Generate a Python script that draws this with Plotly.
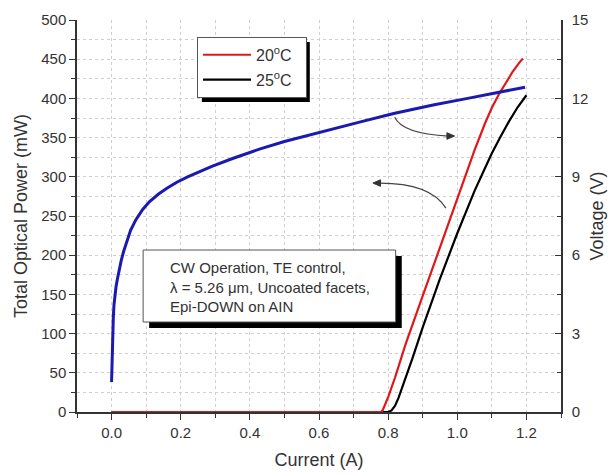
import plotly.graph_objects as go

# ---------------- data ----------------
current_red = [0.00, 0.78, 0.785, 0.79, 0.80, 0.82, 0.85, 0.90, 0.95, 1.00, 1.05, 1.08, 1.10,
               1.12, 1.14, 1.16, 1.18, 1.19]
power_20C = [0, 0, 3, 8, 19, 44, 86, 148, 210, 272, 334, 368, 388,
             405, 420, 434, 446, 451]

current_black = [0.00, 0.80, 0.81, 0.82, 0.83, 0.85, 0.87, 0.90, 0.95, 1.00, 1.05, 1.08, 1.10,
                 1.125, 1.15, 1.175, 1.20]
power_25C = [0, 0, 2, 8, 18, 42, 68, 108, 170, 228, 282, 311, 330,
             351, 371, 389, 404]

current_v = [0.000, 0.001, 0.002, 0.003, 0.005, 0.007, 0.010, 0.013, 0.017, 0.022, 0.028, 0.035,
             0.045, 0.055, 0.070, 0.090, 0.110, 0.135, 0.160, 0.190, 0.220, 0.255, 0.290, 0.350,
             0.430, 0.500, 0.600, 0.720, 0.816, 0.930, 1.030, 1.120, 1.196]
voltage = [1.15, 1.8, 2.4, 2.9, 3.6, 4.1, 4.5, 4.8, 5.1, 5.45, 5.8, 6.15,
           6.6, 6.95, 7.35, 7.75, 8.05, 8.33, 8.56, 8.8, 9.0, 9.2, 9.4, 9.7,
           10.07, 10.35, 10.7, 11.1, 11.42, 11.75, 12.0, 12.22, 12.43]

legend_names = ["20<sup>o</sup>C\u00a0\u00a0", "25<sup>o</sup>C\u00a0\u00a0"]
info_text = "CW Operation, TE control,<br>\u03bb = 5.26 \u03bcm, Uncoated facets,<br>Epi-DOWN on AIN"

FONT = "Liberation Sans, Arial, sans-serif"
TXT = "#333333"
AX = "#333333"
GRID = "#cfcfcf"

fig = go.Figure()
fig.add_trace(go.Scatter(x=current_black, y=power_25C, mode="lines", name=legend_names[1],
                         legendrank=2, legendgroup="b",
                         line=dict(color="#000000", width=2.2)))
fig.add_trace(go.Scatter(x=current_red, y=power_20C, mode="lines", name=legend_names[0],
                         legendrank=1, legendgroup="a",
                         line=dict(color="#e01818", width=2.2)))
fig.add_trace(go.Scatter(x=current_v, y=voltage, mode="lines", name="Voltage", showlegend=False,
                         yaxis="y2", line=dict(color="#1a1ab0", width=3)))

# info box (shadow + box)
fig.add_shape(type="rect", xref="x", yref="y", x0=0.1087, x1=0.8394, y0=107.1, y1=199.0,
              fillcolor="#000000", line=dict(width=0), layer="above")
fig.add_shape(type="rect", xref="x", yref="y", x0=0.0913, x1=0.8217, y0=114.8, y1=206.6,
              fillcolor="white", line=dict(color="#555555", width=1), layer="above")
fig.add_annotation(x=0.1638, y=160.0, xref="x", yref="y", text=info_text, showarrow=False,
                   xanchor="left", yanchor="middle", align="left",
                   font=dict(family=FONT, size=15, color=TXT))

# legend shadow
fig.add_shape(type="rect", xref="paper", yref="paper", x0=0.258, x1=0.481, y0=0.791, y1=0.944,
              fillcolor="#000000", line=dict(width=0), layer="above")

# curved arrows
fig.add_shape(type="path", xref="x", yref="y", path="M 0.819,376 Q 0.841,355 0.975,352",
              line=dict(color="#444444", width=1.2), layer="above")
fig.add_shape(type="path", xref="x", yref="y", path="M 0.992,352 L 0.970,356.2 L 0.970,347.8 Z",
              fillcolor="#333333", line=dict(color="#333333", width=1), layer="above")
fig.add_shape(type="path", xref="x", yref="y", path="M 0.967,260 Q 0.923,292 0.775,292",
              line=dict(color="#444444", width=1.2), layer="above")
fig.add_shape(type="path", xref="x", yref="y", path="M 0.756,292 L 0.778,296.2 L 0.778,287.8 Z",
              fillcolor="#333333", line=dict(color="#333333", width=1), layer="above")

axis_common = dict(showline=True, linecolor=AX, linewidth=1.5, zeroline=False,
                   tickcolor=AX, tickfont=dict(family=FONT, size=15, color=TXT),
                   showgrid=True, gridcolor=GRID, griddash="dot", gridwidth=1,
                   automargin=False)

fig.update_layout(
    width=612, height=474,
    margin=dict(l=77, r=51, t=20, b=62),
    paper_bgcolor="white", plot_bgcolor="white",
    font=dict(family=FONT, size=15, color=TXT),
    showlegend=True,
    legend=dict(x=0.248, y=0.957, xanchor="left", yanchor="top",
                bgcolor="white", bordercolor="#555555", borderwidth=1,
                font=dict(family=FONT, size=16, color=TXT), itemwidth=48,
                tracegroupgap=1),
    xaxis=dict(range=[-0.1, 1.3], tick0=0, dtick=0.2, tickformat=".1f",
               ticks="outside", ticklen=6,
               minor=dict(dtick=0.1, tick0=0, ticks="outside", ticklen=4, tickcolor=AX,
                          showgrid=True, gridcolor=GRID, griddash="dot"),
               title=dict(text="Current (A)", font=dict(family=FONT, size=18, color=TXT), standoff=14),
               **axis_common),
    xaxis2=dict(range=[-0.1, 1.3], overlaying="x", side="top", tick0=0, dtick=0.2,
                ticks="inside", ticklen=6, showticklabels=False, showline=True,
                linecolor=AX, linewidth=1.5, tickcolor=AX, showgrid=False, zeroline=False,
                automargin=False,
                minor=dict(dtick=0.1, tick0=0, ticks="inside", ticklen=4, tickcolor=AX)),
    yaxis=dict(range=[0, 500], dtick=50, ticks="outside", ticklen=6,
               minor=dict(dtick=25, ticks="outside", ticklen=4, tickcolor=AX,
                          showgrid=True, gridcolor=GRID, griddash="dot"),
               title=dict(text="Total Optical Power (mW)", font=dict(family=FONT, size=18, color=TXT),
                          standoff=9),
               **axis_common),
    yaxis2=dict(range=[0, 15], dtick=3, overlaying="y", side="right", ticks="inside", ticklen=6,
                showline=True, linecolor=AX, linewidth=1.5, tickcolor=AX, zeroline=False,
                showgrid=False, tickfont=dict(family=FONT, size=15, color=TXT),
                ticklabelstandoff=6, automargin=False,
                minor=dict(dtick=1.5, ticks="inside", ticklen=4, tickcolor=AX),
                title=dict(text="Voltage (V)", font=dict(family=FONT, size=18, color=TXT), standoff=3)),
)

fig.write_html("out.html")
